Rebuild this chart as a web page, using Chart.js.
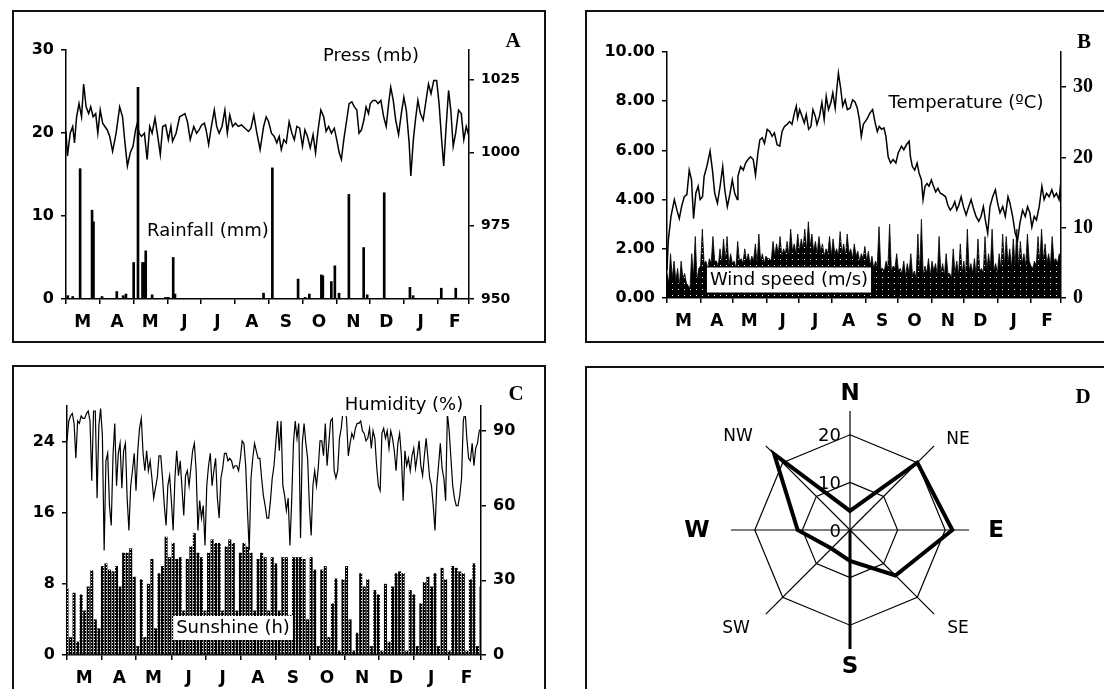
<!DOCTYPE html>
<html>
<head>
<meta charset="utf-8">
<title>Weather station records</title>
<script src="https://cdn.jsdelivr.net/npm/chart.js@4.4.1/dist/chart.umd.min.js"></script>
<style>
  html, body { margin: 0; padding: 0; background: #fff; }
  body { width: 1104px; height: 689px; position: relative; overflow: hidden; }
  .frame { position: absolute; border: 2px solid #111; box-sizing: border-box; }
  canvas { position: absolute; }
</style>
</head>
<body>
<div class="frame" style="left:12px;top:10px;width:534px;height:333px"></div>
<div class="frame" style="left:585px;top:10px;width:540px;height:333px"></div>
<div class="frame" style="left:12px;top:365px;width:534px;height:340px"></div>
<div class="frame" style="left:585px;top:366px;width:540px;height:340px"></div>
<canvas id="chartA" width="534" height="333" style="left:12px;top:10px"></canvas>
<canvas id="chartB" width="519" height="333" style="left:585px;top:10px"></canvas>
<canvas id="chartC" width="534" height="324" style="left:12px;top:365px"></canvas>
<canvas id="chartD" width="519" height="323" style="left:585px;top:366px"></canvas>
<script>
const SANS = "'DejaVu Sans', Arial, sans-serif";
const SERIF = "'Liberation Serif', 'Times New Roman', serif";

// x axis: days from 1 March, one letter per month
const monthLetters = ['M', 'A', 'M', 'J', 'J', 'A', 'S', 'O', 'N', 'D', 'J', 'F'];
const monthStarts = [0, 31, 61, 92, 122, 153, 184, 214, 245, 275, 306, 337, 365];

// A - rainfall (mm) and pressure (mb)
const rainTicks = [0, 10, 20, 30];
const pressTicks = [950, 975, 1000, 1025];
const rainDay = [1.6, 6.1, 12.8, 23.6, 24.9, 32.6, 46, 51.8, 54.3, 61.3, 65.2, 69.3, 70.9, 72.2, 78, 90.1, 92.7, 97.1, 98.7, 178.9,
  186.9, 210.2, 216.6, 220.4, 231.3, 232.6, 240.3, 243.5, 247.3, 256.2, 269.6, 272.8, 288.2, 311.5, 314.4, 339.9, 353];
const rainMm = [0.4, 0.3, 15.7, 10.7, 9.3, 0.3, 0.9, 0.4, 0.6, 4.4, 25.5, 4.4, 4.4, 5.8, 0.5, 0.2, 0.2, 5.0, 0.6, 0.7,
  15.8, 2.4, 0.2, 0.6, 2.9, 2.8, 2.1, 4.0, 0.7, 12.6, 6.2, 0.5, 12.8, 1.4, 0.4, 1.3, 1.3];
const pressDay = [0, 1.3, 3.8, 6.1, 7.7, 9.6, 11.8, 14.1, 16, 18.2, 20.5, 22.4, 24.6, 26.9, 28.8, 31, 33.2, 35.2, 37.4, 39.6,
  42.2, 45.4, 48.6, 51.2, 53.4, 55.6, 58.2, 60.7, 63, 64.6, 66.2, 68.4, 71, 73.5, 75.8, 78, 80.6, 83.1, 85.4, 87.6,
  90.2, 92.7, 95, 96.5, 99.7, 102.9, 105.5, 107.7, 110, 112.5, 115.7, 118.3, 120.5, 122.8, 125.3, 126.9, 129.2, 131.7, 134.3, 136.5,
  138.7, 141.3, 143.9, 146.1, 148.3, 150.9, 153.5, 156, 158.9, 162.1, 165.3, 167.5, 170.1, 172.6, 175.8, 179, 181.3, 183.5, 186.1, 188.6,
  190.9, 193.1, 195, 197.3, 199.5, 202.1, 204.6, 206.8, 209.1, 211.6, 214.2, 216.4, 218.7, 221.2, 223.8, 226, 228.3, 230.8, 233.4, 235.6,
  237.9, 240.4, 243, 245.2, 247.5, 249.4, 251.6, 253.8, 256.4, 258.9, 261.2, 263.4, 265.4, 267.6, 269.8, 271.8, 274, 275.6, 278.1, 280.4,
  282.6, 285.2, 287.7, 290, 292.2, 294.1, 296.4, 298.6, 301.2, 303.7, 306, 308.2, 310.8, 312.3, 314.6, 316.5, 318.7, 321, 323.5, 326.1,
  328.3, 330.6, 333.1, 335.7, 337.9, 340.2, 342.1, 344.3, 346.5, 348.5, 350.7, 352.9, 355.5, 358, 360.3, 362.5, 365];
const pressMb = [1007.2, 998.8, 1006.6, 1008.9, 1003.3, 1012.2, 1016.7, 1012.2, 1023.4, 1015.6, 1013.3, 1015.6, 1012.2, 1013.3, 1006.6, 1014.5, 1010, 1008.9, 1007.7, 1005.5,
  1000.4, 1006.6, 1015.6, 1012.2, 1003.3, 995.4, 999.9, 1002.1, 1007.7, 1010, 1006.6, 1005.5, 1006.6, 997.6, 1008.9, 1006.6, 1011.7, 1005.5, 999.3, 1008.9,
  1009.4, 1004.4, 1008.9, 1003.8, 1006.6, 1012.2, 1012.8, 1013.3, 1010.5, 1004.4, 1008.9, 1006.6, 1007.7, 1009.4, 1010, 1007.7, 1002.7, 1008.9, 1014.5, 1008.9,
  1006.6, 1008.9, 1014.5, 1006.6, 1012.8, 1008.9, 1010, 1008.9, 1009.4, 1008.3, 1007.2, 1008.3, 1012.8, 1007.2, 1001, 1008.9, 1012.2, 1010.5, 1006.6, 1005.5,
  1003.3, 1005.5, 1001, 1004.4, 1003.3, 1010.5, 1006.6, 1004.4, 1008.9, 1008.3, 1002.1, 1007.7, 1005.5, 1001.6, 1006.1, 999.9, 1007.7, 1014.5, 1012.2, 1007.2,
  1008.9, 1006.6, 1008.3, 1004.4, 999.9, 997.6, 1004.4, 1010, 1016.7, 1017.3, 1015.6, 1014.5, 1006.6, 1007.7, 1011.1, 1015.6, 1013.3, 1016.7, 1017.8, 1017.8,
  1016.7, 1017.8, 1012.2, 1008.9, 1016.7, 1022.3, 1017.8, 1011.1, 1006.1, 1013.3, 1018.9, 1014.5, 1003.3, 992, 1004.4, 1011.1, 1017.8, 1013.3, 1011.1, 1017.8,
  1023.4, 1020.1, 1024.6, 1024.6, 1016.7, 1004.4, 995.4, 1008.9, 1021.2, 1014.5, 1002.1, 1006.6, 1014.5, 1013.3, 1004.4, 1008.9, 1005.5];

// B - wind speed (m/s) and temperature (ºC)
const windTicks = [0, 2, 4, 6, 8, 10];
const tempTicks = [0, 10, 20, 30];
const windSpeed = [1.0, 0.6, 1.8, 0.8, 1.5, 0.7, 1.2, 0.5, 1.5, 0.8, 1.0, 0.6, 0.5, 0.4, 1.8, 0.9, 2.5, 0.7, 1.2, 1.3,
  2.8, 1.4, 1.5, 1.2, 1.6, 1.4, 2.5, 1.5, 1.5, 1.3, 2.0, 1.4, 2.4, 1.5, 2.5, 1.3, 1.8, 1.4, 1.5, 1.2,
  2.3, 1.5, 1.6, 1.4, 2.0, 1.5, 1.8, 1.4, 1.7, 1.5, 2.2, 1.4, 2.6, 1.5, 1.8, 1.4, 1.7, 1.6, 1.6, 1.5,
  2.3, 1.7, 2.2, 1.8, 2.5, 1.7, 2.0, 1.8, 2.3, 1.7, 2.8, 1.9, 2.2, 1.8, 2.6, 1.9, 2.4, 2.0, 2.8, 1.9,
  3.1, 2.1, 2.6, 1.9, 2.3, 1.8, 2.5, 1.9, 2.2, 1.7, 2.0, 1.8, 2.5, 1.7, 2.4, 1.8, 2.0, 1.7, 2.7, 1.8,
  2.2, 1.7, 2.6, 1.8, 2.0, 1.6, 2.2, 1.7, 1.9, 1.5, 1.8, 1.6, 2.1, 1.5, 1.9, 1.3, 1.7, 1.2, 1.5, 1.3,
  2.9, 1.2, 1.2, 1.1, 1.5, 1.2, 3.0, 1.1, 1.3, 1.2, 1.8, 1.1, 1.2, 1.0, 1.5, 0.9, 1.4, 1.0, 1.8, 0.9,
  1.1, 0.8, 2.6, 1.0, 3.2, 0.9, 1.3, 1.0, 1.6, 0.9, 1.5, 1.1, 1.4, 0.9, 2.5, 1.0, 1.4, 0.9, 1.8, 1.0,
  1.0, 0.8, 2.0, 1.0, 1.5, 0.9, 2.2, 1.0, 1.5, 0.9, 2.8, 1.1, 1.4, 1.0, 1.6, 0.9, 2.4, 1.1, 1.2, 1.0,
  2.5, 1.1, 1.8, 1.2, 2.8, 1.1, 1.4, 1.0, 1.8, 1.2, 2.6, 1.3, 2.5, 1.4, 2.0, 1.2, 2.4, 1.3, 2.8, 1.2,
  2.3, 1.4, 1.8, 1.3, 2.6, 1.5, 1.3, 1.2, 1.5, 1.3, 2.5, 1.4, 2.8, 1.5, 2.2, 1.4, 1.8, 1.3, 2.5, 1.5,
  1.6, 1.4, 1.8, 1.5];
const tempDay = [0, 1.2, 3.7, 6.8, 9.2, 11.4, 13.5, 16, 18.4, 20.6, 22.7, 24.6, 26.7, 28.9, 30.7, 32.9, 34.4, 36.9, 39.9, 42.1, 44.2,
  46.7, 49.2, 51.6, 53.5, 55.9, 58.4, 60.5, 62.7, 65.1, 65.7, 68.2, 70.7, 72.8, 75, 77.4, 79.9, 82, 84.2, 86, 88.2,
  90.3, 92.8, 95.2, 97.4, 99.5, 102, 104.5, 106.6, 108.8, 111.2, 113.7, 115.8, 118, 119.8, 121, 122.9, 125, 127.2, 129, 131.2,
  133.3, 135.2, 137.3, 138.9, 141.3, 143.5, 145.6, 147.5, 149.6, 151.8, 153.6, 155.8, 157.3, 158.8, 161, 162.8, 165, 167.1, 169.6, 172,
  174.2, 176.3, 178.2, 180, 181.9, 185, 188, 190.5, 192.6, 194.8, 196.6, 198.8, 201, 202.8, 204.9, 207.1, 209.5, 212, 214.1, 217.2,
  219.4, 221.8, 224.3, 225.5, 227.3, 229.5, 231.7, 233.5, 235.7, 237.2, 239, 240.9, 242.7, 244.9, 246.4, 248.9, 251, 253.2, 255.6, 258.1,
  260.2, 262.4, 264.8, 266.6, 268.5, 270.3, 272.5, 274.6, 277.1, 279.5, 281.7, 283.8, 286.3, 288.8, 290.9, 293.1, 294.9, 297.1, 299.2, 301.7,
  304.2, 306.3, 308.5, 311, 313.4, 315.9, 317.7, 320.2, 322.6, 324.8, 326.9, 329.4, 331.9, 334, 336.2, 338, 340.2, 342.3, 344.8, 347.3,
  349.4, 351.6, 354, 356.5, 358.6, 360.8, 363.2, 364.7];
const tempC = [4, 8.2, 11.6, 14, 12.5, 11.3, 13, 14.4, 14.7, 18.2, 16.8, 11.3, 14.9, 15.9, 14, 14.4, 17.3, 18.7, 20.9, 18.2, 14.9,
  13.5, 15.9, 18.7, 15.4, 13, 14.9, 16.8, 14.9, 14, 17.3, 18.7, 18.2, 19.2, 19.7, 20.1, 19.7, 17.5, 20.6, 22.5, 22.8,
  22, 24, 23.7, 23, 23.5, 21.8, 21.6, 23.7, 24.4, 24.7, 25.1, 24.7, 26.3, 27.3, 25.6, 26.8, 25.9, 24.9, 26.1, 24,
  24.4, 26.8, 25.9, 24.7, 25.9, 27.8, 25.4, 28.7, 26.8, 27.8, 29.2, 27, 29.7, 32, 29.7, 27.3, 28.2, 26.8, 27, 28.2,
  27.9, 27, 25.4, 23, 24.7, 25.4, 26.3, 26.8, 25.1, 23.7, 24.4, 24, 24.2, 23, 20.1, 19.2, 19.7, 19.2, 20.6, 21.6,
  21.1, 21.8, 22.3, 20.1, 18.7, 18.2, 19.2, 17.8, 16.8, 14, 15.9, 16.3, 15.9, 16.8, 16.1, 15.1, 15.6, 14.9, 14.7, 14.4,
  13.2, 12.5, 13, 13.7, 12.5, 13.2, 14.4, 13, 11.8, 13, 14, 12.8, 11.6, 10.9, 11.6, 13, 11.1, 9.2, 13, 14.4,
  15.4, 13.5, 12.1, 13, 11.6, 14.4, 13.5, 11.6, 9.2, 8.2, 10.6, 12.5, 11.6, 13, 12.1, 10.1, 11.6, 11.1, 13, 15.9,
  14, 14.9, 14.4, 15.4, 14.4, 14.9, 14, 16.3];

// C - sunshine (h) and relative humidity (%), evenly spaced readings over the year
const sunTicks = [0, 8, 16, 24];
const humTicks = [0, 30, 60, 90];
const sunshine = [7.5, 2, 7, 1.5, 6.8, 5, 7.7, 9.5, 4, 3, 10, 10.3, 9.6, 9.4, 10, 7.7, 11.5, 11.5, 12, 8.8,
  1, 8.5, 2, 8, 10.8, 3, 9.2, 10, 13.3, 11, 12.6, 10.8, 11, 5, 10.8, 12.2, 13.7, 11.5, 11, 5,
  11.5, 13, 12.6, 12.6, 5, 12.2, 13, 12.6, 5, 11.5, 12.6, 12.2, 11.5, 5, 10.8, 11.5, 11, 5, 11, 10.3,
  5, 11, 11, 4.5, 11, 11, 11, 10.8, 4, 11, 9.6, 1, 9.6, 10, 2, 5.8, 8.6, 0.5, 8.5, 10,
  4, 0.5, 2.5, 9.2, 7.7, 8.5, 1, 7.3, 6.8, 0.5, 8, 1.5, 7.7, 9.2, 9.4, 9.2, 0.5, 7.3, 6.8, 1,
  5.8, 8.2, 8.8, 7.7, 9.2, 1, 9.8, 8.5, 0.5, 10, 9.8, 9.4, 9.2, 0.5, 8.5, 10.3, 1, 7.7];
const humidity = [86, 94, 96, 97, 93, 79, 94, 93, 96, 95, 95, 97, 98, 94, 70, 98, 98, 63, 92, 99,
  88, 42, 78, 81, 60, 52, 80, 93, 68, 81, 85, 67, 82, 85, 63, 50, 68, 74, 81, 66,
  82, 91, 95, 81, 74, 82, 74, 78, 71, 63, 67, 71, 80, 80, 71, 60, 52, 68, 72, 62,
  50, 71, 82, 72, 78, 67, 56, 72, 74, 68, 75, 82, 85, 74, 50, 62, 55, 60, 44, 68,
  76, 81, 68, 74, 79, 63, 55, 71, 75, 81, 81, 78, 79, 78, 75, 76, 76, 74, 79, 86,
  85, 76, 58, 42, 71, 79, 85, 82, 79, 79, 71, 64, 60, 55, 55, 62, 71, 76, 85, 94,
  82, 94, 68, 64, 58, 63, 44, 62, 85, 94, 87, 93, 47, 85, 93, 85, 79, 60, 48, 68,
  74, 68, 75, 86, 86, 80, 93, 76, 85, 94, 95, 74, 71, 74, 87, 91, 98, 99, 95, 80,
  85, 89, 87, 91, 93, 93, 94, 90, 89, 86, 87, 91, 83, 90, 87, 76, 68, 66, 89, 91,
  87, 90, 83, 90, 87, 82, 74, 85, 89, 80, 62, 82, 76, 79, 74, 80, 83, 75, 80, 86,
  76, 72, 80, 87, 79, 71, 68, 60, 50, 68, 76, 85, 75, 71, 62, 97, 90, 79, 68, 63,
  60, 60, 64, 71, 94, 98, 87, 79, 78, 85, 76, 83, 85, 90, 91];

// D - wind direction frequency (%)
const windDirs = ['N', 'NE', 'E', 'SE', 'S', 'SW', 'W', 'NW'];
const windFreq = [4, 20, 21.5, 13.5, 6.5, 5.5, 11, 22.5];
const roseTicks = [0, 10, 20];

const pts = (xs, ys) => xs.map((x, i) => ({ x, y: ys[i] }));
const spread = ys => ys.map((y, i) => ({ x: i * 365 / (ys.length - 1), y }));

function dotPattern(size, holes) {
  const c = document.createElement('canvas');
  c.width = c.height = size;
  const g = c.getContext('2d');
  g.fillStyle = '#000';
  g.fillRect(0, 0, size, size);
  g.fillStyle = '#fff';
  holes.forEach(([x, y, w]) => g.fillRect(x, y, w, w));
  return g.createPattern(c, 'repeat');
}

// free text drawn over the data (series names, panel letters)
Chart.register({
  id: 'notes',
  afterDatasetsDraw(chart, args, opts) {
    const ctx = chart.ctx;
    (opts.items || []).forEach(n => {
      ctx.save();
      ctx.font = n.font;
      ctx.textAlign = 'center';
      ctx.textBaseline = 'middle';
      if (n.box) {
        const w = ctx.measureText(n.text).width + 6;
        ctx.fillStyle = '#fff';
        ctx.fillRect(n.x - w / 2, n.y - n.box / 2, w, n.box);
      }
      ctx.fillStyle = '#000';
      ctx.fillText(n.text, n.x, n.y);
      ctx.restore();
    });
  }
});

const tickFont = { family: SANS, size: 16, weight: 'bold' };

function axisX(height, labelOffset) {
  return {
    type: 'linear', min: 0, max: 365, offset: false,
    afterBuildTicks: s => { s.ticks = monthStarts.map(v => ({ value: v })); },
    afterFit: s => { s.height = height; },
    ticks: { color: '#000', font: { family: SANS, size: 17, weight: 'bold' }, maxRotation: 0, autoSkip: false,
      labelOffset, padding: 8, callback: (v, i) => monthLetters[i] || '' },
    grid: { drawOnChartArea: false, color: '#000', tickLength: 5, offset: false, lineWidth: 1.5 },
    border: { color: '#000', width: 1.5 }
  };
}

function axisY(position, min, max, tickValues, width, font, fmt) {
  return {
    type: 'linear', position, min, max,
    afterBuildTicks: s => { s.ticks = tickValues.map(v => ({ value: v })); },
    afterFit: s => { s.width = width; },
    ticks: { color: '#000', font: font || tickFont, padding: 7, callback: fmt || (v => String(v)) },
    grid: { drawOnChartArea: false, color: '#000', tickLength: 5, lineWidth: 1.5 },
    border: { color: '#000', width: 1.5 }
  };
}

function options(padTop, scales, notes) {
  return {
    responsive: false, animation: false,
    layout: { padding: { top: padTop, left: 0, right: 0, bottom: 0 } },
    plugins: { legend: { display: false }, tooltip: { enabled: false }, notes: { items: notes } },
    scales
  };
}

const label = `18px ${SANS}`;
const letter = `bold 21px ${SERIF}`;

// Panel A
new Chart(document.getElementById('chartA'), {
  type: 'bar',
  data: { datasets: [
    { type: 'line', data: pts(pressDay, pressMb), yAxisID: 'yR', borderColor: '#000', borderWidth: 1.5,
      pointRadius: 0, tension: 0 },
    { type: 'bar', data: pts(rainDay, rainMm), yAxisID: 'yL', backgroundColor: '#000', barThickness: 2 }
  ] },
  options: options(40, {
    x: axisX(44, 16.8),
    yL: axisY('left', 0, 30, rainTicks, 54),
    yR: axisY('right', 950, 1035, pressTicks, 77, { family: SANS, size: 14, weight: 'bold' })
  }, [
    { text: 'Press (mb)', x: 359, y: 46, font: label },
    { text: 'Rainfall (mm)', x: 196, y: 221, font: label },
    { text: 'A', x: 501, y: 32, font: letter }
  ])
});

// Panel B
new Chart(document.getElementById('chartB'), {
  type: 'line',
  data: { datasets: [
    { data: pts(tempDay, tempC), yAxisID: 'yR', borderColor: '#000', borderWidth: 1.5, pointRadius: 0, tension: 0 },
    { data: spread(windSpeed), yAxisID: 'yL', borderColor: '#000', borderWidth: 0.8, pointRadius: 0, tension: 0,
      fill: 'origin', backgroundColor: dotPattern(6, [[3, 3, 1]]) }
  ] },
  options: options(42, {
    x: axisX(45, 16.4),
    yL: axisY('left', 0, 10, windTicks, 82, null, v => v.toFixed(2)),
    yR: axisY('right', 0, 35, tempTicks, 43, { family: SERIF, size: 20, weight: 'bold' })
  }, [
    { text: 'Temperature (ºC)', x: 381, y: 93, font: label },
    { text: 'Wind speed (m/s)', x: 204, y: 270, font: label, box: 25 },
    { text: 'B', x: 499, y: 33, font: letter }
  ])
});

// Panel C
new Chart(document.getElementById('chartC'), {
  type: 'bar',
  data: { datasets: [
    { type: 'line', data: spread(humidity), yAxisID: 'yR', borderColor: '#000', borderWidth: 1.2,
      pointRadius: 0, tension: 0 },
    { type: 'bar', data: spread(sunshine), yAxisID: 'yL', backgroundColor: dotPattern(3, [[1, 1, 1]]),
      barPercentage: 0.85, categoryPercentage: 1 }
  ] },
  options: options(41, {
    x: axisX(34, 17.2),
    yL: axisY('left', 0, 28, sunTicks, 55),
    yR: axisY('right', 0, 100, humTicks, 65)
  }, [
    { text: 'Humidity (%)', x: 392, y: 40, font: label, box: 22 },
    { text: 'Sunshine (h)', x: 221, y: 263, font: label, box: 24 },
    { text: 'C', x: 504, y: 30, font: letter }
  ])
});

// Panel D - wind rose
new Chart(document.getElementById('chartD'), {
  type: 'radar',
  data: { labels: windDirs, datasets: [
    { data: windFreq, borderColor: '#000', borderWidth: 4, pointRadius: 0, fill: false, tension: 0,
      borderJoinStyle: 'miter' }
  ] },
  options: {
    responsive: false, animation: false,
    layout: { padding: { left: 146, right: 135, top: 45, bottom: 40 } },
    plugins: { legend: { display: false }, tooltip: { enabled: false },
      notes: { items: [{ text: 'D', x: 498, y: 32, font: letter }] } },
    scales: { r: {
      min: 0, max: 25,
      ticks: { display: false, stepSize: 10 },
      pointLabels: { display: false },
      grid: { color: c => (c.tick && c.tick.value > 20) ? 'rgba(0,0,0,0)' : '#000', lineWidth: 1.2 },
      angleLines: { color: '#000', lineWidth: c => c.index === 4 ? 3 : 1.2 }
    } }
  },
  plugins: [{
    id: 'compass',
    afterDraw(chart) {
      const r = chart.scales.r;
      const ctx = chart.ctx;
      // label centres relative to the rose centre
      const place = [[0, -136], [108, -90], [146, 1], [108, 99], [0, 137], [-114, 99], [-153, 1], [-112, -93]];
      ctx.save();
      ctx.fillStyle = '#000';
      ctx.textAlign = 'center';
      ctx.textBaseline = 'middle';
      windDirs.forEach((d, i) => {
        ctx.font = d.length === 1 ? `bold 23px ${SANS}` : `17px ${SANS}`;
        ctx.fillText(d, r.xCenter + place[i][0], r.yCenter + place[i][1]);
      });
      ctx.font = `18px ${SANS}`;
      ctx.textAlign = 'right';
      roseTicks.forEach(v => {
        ctx.fillText(String(v), r.xCenter - 9, r.yCenter - r.getDistanceFromCenterForValue(v) + 2);
      });
      ctx.restore();
    }
  }]
});
</script>
</body>
</html>
